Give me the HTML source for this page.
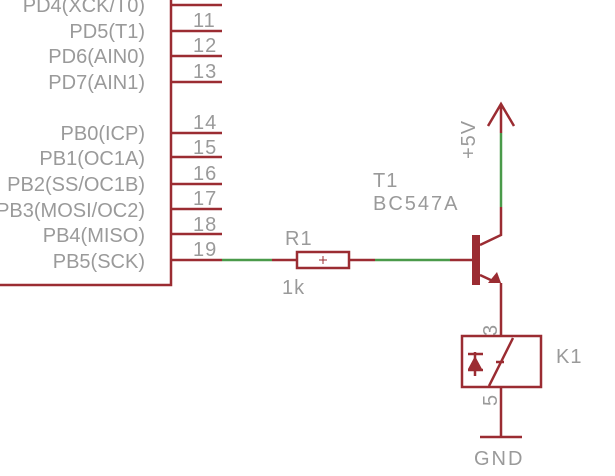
<html><body style="margin:0;background:#fff">
<svg width="615" height="476" xmlns="http://www.w3.org/2000/svg" style="display:block">
<g font-family="Liberation Sans, sans-serif" font-size="20" fill="#9a9a9a">
<g text-anchor="end">
<text x="145" y="12">PD4(XCK/T0)</text>
<text x="145" y="38">PD5(T1)</text>
<text x="145" y="63">PD6(AIN0)</text>
<text x="145" y="89">PD7(AIN1)</text>
<text x="145" y="140">PB0(ICP)</text>
<text x="145" y="165">PB1(OC1A)</text>
<text x="145" y="191">PB2(SS/OC1B)</text>
<text x="145" y="217">PB3(MOSI/OC2)</text>
<text x="145" y="242">PB4(MISO)</text>
<text x="145" y="268">PB5(SCK)</text>
</g>
<g letter-spacing="1">
<text x="193" y="27">11</text>
<text x="193" y="52">12</text>
<text x="193" y="78">13</text>
<text x="193" y="129">14</text>
<text x="193" y="154">15</text>
<text x="193" y="180">16</text>
<text x="193" y="205">17</text>
<text x="193" y="231">18</text>
<text x="193" y="256">19</text>
<text x="285" y="245">R1</text>
<text x="282" y="294">1k</text>
<text x="373" y="187">T1</text>
<text x="373" y="210" letter-spacing="2">BC547A</text>
<text x="556" y="363">K1</text>
<text x="474" y="465" letter-spacing="2">GND</text>
<text transform="translate(475,159) rotate(-90)">+5V</text>
<text transform="translate(497,336) rotate(-90)">3</text>
<text transform="translate(497,406) rotate(-90)">5</text>
</g>
</g>
<g stroke="#9b2c32" stroke-width="2.5" fill="none">
<polyline points="171,0 171,285 0,285"/>
<path d="M171 5H222M171 31H222M171 56H222M171 82H222M171 133H222M171 157H222M171 184H222M171 209H222M171 234H222M171 260H222"/>
<path d="M272 260H296M349 260H375M450 260H472"/>
<rect x="297" y="252" width="52" height="16"/>
<path d="M480 245L501 235V207M501 133V104M488 126L501 104L514 126M480 275L495 282M501 283V336M501 387V437M480 437H522"/>
<rect x="462" y="336" width="79" height="51"/>
<path d="M489 386L513 338M496 362H504M475 352V376M468 354H483M468 370H483"/>
</g>
<path d="M319 260H327M323 256V264" stroke="#9b2c32" stroke-width="1"/>
<polygon points="468,369 482,369 475,356" fill="#9b2c32"/>
<rect x="472" y="235" width="8" height="50" fill="#9b2c32"/>
<polygon points="488,283 501,283 497,272" fill="#9b2c32"/>
<g stroke="#4a9a4a" stroke-width="2.5">
<path d="M222 260H272M375 260H450M501 207V133"/>
</g>
</svg>
</body></html>
